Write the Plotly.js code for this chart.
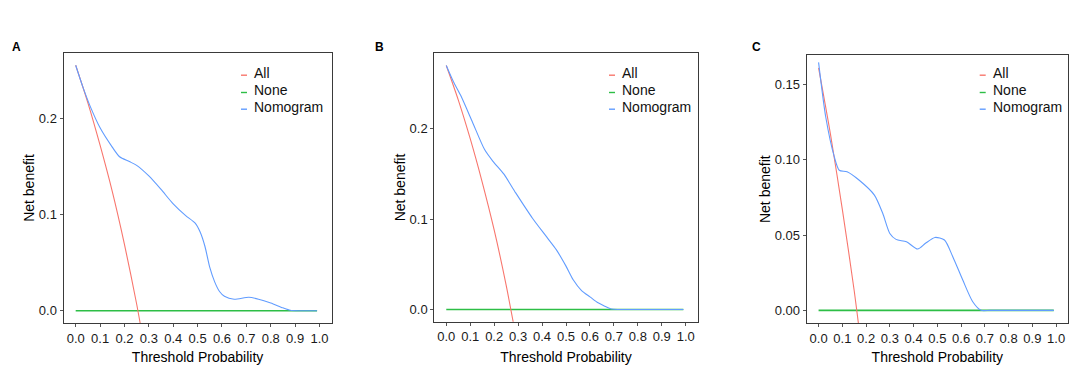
<!DOCTYPE html>
<html>
<head>
<meta charset="utf-8">
<script src="https://cdn.plot.ly/plotly-3.0.1.min.js"></script>
<style>html,body{margin:0;padding:0;background:#fff;}#chart{width:1069px;height:365px;}</style>
</head>
<body>
<div id="chart"></div>
<script>
// ---- Panel A ----
const nomoA_x = [0, 0.03, 0.06, 0.10, 0.15, 0.18, 0.22, 0.25, 0.30, 0.35, 0.40, 0.45, 0.49, 0.51, 0.53, 0.55, 0.57, 0.59, 0.61, 0.65, 0.71, 0.75, 0.80, 0.85, 0.88, 0.92, 0.96, 0.99];
const nomoA_y = [0.255, 0.232, 0.212, 0.190, 0.170, 0.160, 0.155, 0.151, 0.140, 0.126, 0.111, 0.099, 0.091, 0.082, 0.067, 0.045, 0.030, 0.020, 0.015, 0.012, 0.014, 0.012, 0.008, 0.003, 0.0005, 0, 0, 0];
const allA_x = [0, 0.05, 0.10, 0.15, 0.20, 0.25, 0.30];
const allA_y = [0.255, 0.216, 0.172, 0.124, 0.069, 0.007, -0.064];
// ---- Panel B ----
const nomoB_x = [0, 0.03, 0.06, 0.11, 0.16, 0.195, 0.24, 0.29, 0.36, 0.42, 0.46, 0.50, 0.53, 0.565, 0.60, 0.63, 0.66, 0.69, 0.72, 0.78, 0.85, 0.92, 0.99];
const nomoB_y = [0.270, 0.252, 0.237, 0.207, 0.177, 0.164, 0.150, 0.129, 0.101, 0.080, 0.066, 0.048, 0.033, 0.021, 0.014, 0.008, 0.004, 0.0005, 0, 0, 0, 0, 0];
const allB_x = [0, 0.05, 0.10, 0.15, 0.20, 0.25, 0.30];
const allB_y = [0.270, 0.232, 0.189, 0.141, 0.088, 0.027, -0.043];
// ---- Panel C ----
const nomoC_x = [0, 0.03, 0.066, 0.087, 0.12, 0.17, 0.235, 0.27, 0.30, 0.326, 0.37, 0.417, 0.45, 0.49, 0.53, 0.565, 0.607, 0.649, 0.684, 0.72, 0.78, 0.85, 0.92, 0.99];
const nomoC_y = [0.1646, 0.1285, 0.102, 0.093, 0.092, 0.0865, 0.0765, 0.0644, 0.051, 0.0471, 0.0455, 0.0407, 0.0445, 0.0484, 0.0467, 0.0356, 0.0201, 0.0057, 0, 0, 0, 0, 0, 0];
const allC_x = [0, 0.05, 0.10, 0.15, 0.20];
const allC_y = [0.161, 0.117, 0.067, 0.013, -0.050];
// ---- None (treat none) ----
const none_x = [0, 0.99];
const none_y = [0, 0];

const xTicks = [0, 0.1, 0.2, 0.3, 0.4, 0.5, 0.6, 0.7, 0.8, 0.9, 1.0];
const yTicksAB = [0, 0.1, 0.2];
const yTicksC = [0, 0.05, 0.10, 0.15];
const seriesNames = ["All", "None", "Nomogram"];
const panelLabels = ["A", "B", "C"];

const RED = "#F8766D", GREEN = "#2DBE46", BLUE = "#619CFF";
const W = 1069, H = 365;
const FONT = "Liberation Sans, Arial, sans-serif";

function tr(x, y, color, ax, w, smooth) {
  const line = {color: color, width: w};
  if (smooth) { line.shape = "spline"; line.smoothing = 0.7; }
  return {x: x, y: y, type: "scatter", mode: "lines", line: line, xaxis: ax[0], yaxis: ax[1], showlegend: false, hoverinfo: "skip"};
}
const data = [
  tr(none_x, none_y, GREEN, ["x", "y"], 1.6), tr(allA_x, allA_y, RED, ["x", "y"], 1.1, true), tr(nomoA_x, nomoA_y, BLUE, ["x", "y"], 1.1, true),
  tr(none_x, none_y, GREEN, ["x2", "y2"], 1.6), tr(allB_x, allB_y, RED, ["x2", "y2"], 1.1, true), tr(nomoB_x, nomoB_y, BLUE, ["x2", "y2"], 1.1, true),
  tr(none_x, none_y, GREEN, ["x3", "y3"], 1.6), tr(allC_x, allC_y, RED, ["x3", "y3"], 1.1, true), tr(nomoC_x, nomoC_y, BLUE, ["x3", "y3"], 1.1, true)
];

// plot boxes in pixels [left, right, top, bottom]
const boxes = [[63.5, 331.7, 53, 323], [434.3, 697.7, 53.3, 321.7], [806.7, 1068, 55, 323.3]];
const yRanges = [[-0.01275, 0.26775], [-0.0135, 0.2835], [-0.0086, 0.1695]];

function xax(i) {
  const b = boxes[i];
  return {
    domain: [b[0] / W, b[1] / W], range: [-0.05, 1.05], anchor: i === 0 ? "y" : "y" + (i + 1),
    tickvals: xTicks, ticktext: xTicks.map(v => v.toFixed(1)),
    showgrid: false, zeroline: false, showline: true, mirror: true, linecolor: "#3a3a3a", linewidth: 1,
    ticks: "outside", ticklen: 3, tickcolor: "#555", tickwidth: 1,
    tickfont: {family: FONT, size: 13, color: "#1a1a1a"},
    title: {text: "Threshold Probability", font: {family: FONT, size: 14, color: "#000"}, standoff: 14}
  };
}
function yax(i) {
  const b = boxes[i];
  const ticks = i === 2 ? yTicksC : yTicksAB;
  const dec = i === 2 ? 2 : 1;
  return {
    domain: [1 - b[3] / H, 1 - b[2] / H], range: yRanges[i], anchor: i === 0 ? "x" : "x" + (i + 1),
    tickvals: ticks, ticktext: ticks.map(v => v.toFixed(dec)),
    showgrid: false, zeroline: false, showline: true, mirror: true, linecolor: "#3a3a3a", linewidth: 1,
    ticks: "outside", ticklen: 3, tickcolor: "#555", tickwidth: 1,
    tickfont: {family: FONT, size: 13, color: "#1a1a1a"},
    title: {text: "Net benefit", font: {family: FONT, size: 14, color: "#000"}, standoff: 0}
  };
}

const annotations = [];
const shapes = [];
const legendLeft = [252, 620, 990.7];
const legendRows = [72.7, 90, 106.7];
const colors = [RED, GREEN, BLUE];
const labelX = [10, 373, 750];
for (let i = 0; i < 3; i++) {
  annotations.push({text: "<b>" + panelLabels[i] + "</b>", x: labelX[i] / W, y: 1 - 47 / H, xref: "paper", yref: "paper",
    xanchor: "left", yanchor: "middle", showarrow: false, font: {family: FONT, size: 12, color: "#000"}});
  for (let k = 0; k < 3; k++) {
    annotations.push({text: seriesNames[k], x: legendLeft[i] / W, y: 1 - legendRows[k] / H, xref: "paper", yref: "paper",
      xanchor: "left", yanchor: "middle", showarrow: false, font: {family: FONT, size: 14, color: "#111"}});
    shapes.push({type: "line", xref: "paper", yref: "paper",
      x0: (legendLeft[i] - 11) / W, x1: (legendLeft[i] - 5) / W,
      y0: 1 - (legendRows[k] + 2.5) / H, y1: 1 - (legendRows[k] + 2.5) / H,
      line: {color: colors[k], width: 1.4}});
  }
}

const layout = {
  width: W, height: H, margin: {l: 0, r: 0, t: 0, b: 0},
  paper_bgcolor: "#fff", plot_bgcolor: "#fff", showlegend: false,
  font: {family: FONT},
  xaxis: xax(0), yaxis: yax(0), xaxis2: xax(1), yaxis2: yax(1), xaxis3: xax(2), yaxis3: yax(2),
  annotations: annotations, shapes: shapes
};
Plotly.newPlot("chart", data, layout, {displayModeBar: false, staticPlot: true});
</script>
</body>
</html>
